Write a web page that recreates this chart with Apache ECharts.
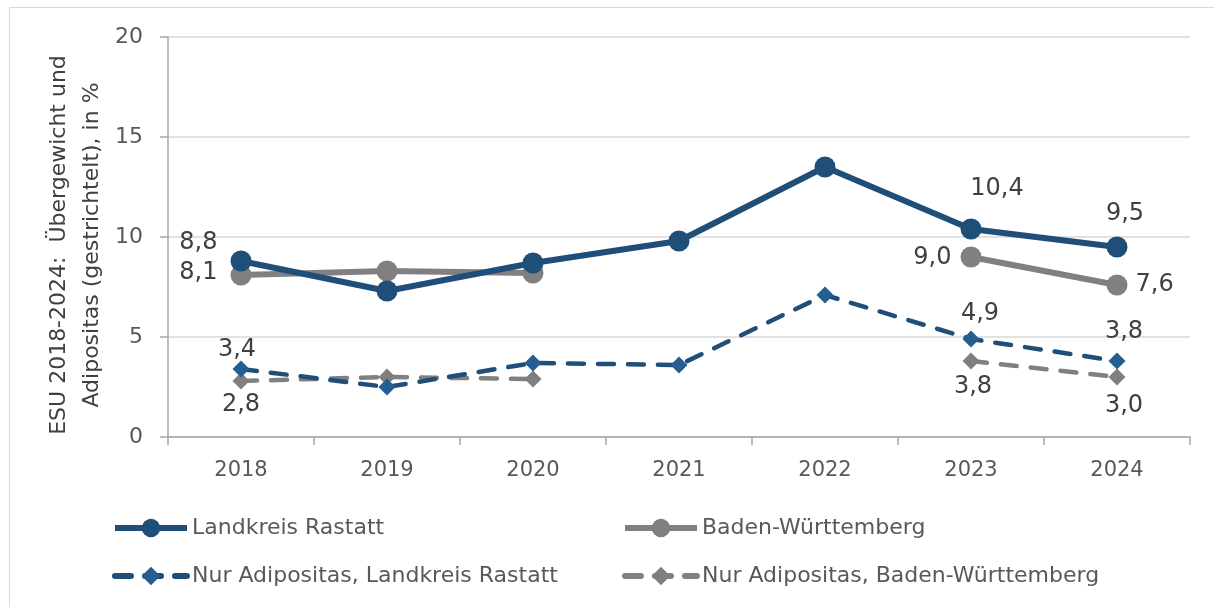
<!DOCTYPE html>
<html>
<head>
<meta charset="utf-8">
<script src="https://cdn.jsdelivr.net/npm/echarts@6/dist/echarts.min.js"></script>
<style>
html,body{margin:0;padding:0;background:#fff;}
#frame{position:absolute;left:9px;top:7px;width:1220px;height:620px;border:1px solid #d9d9d9;box-sizing:border-box;}
#chart{position:absolute;left:0;top:0;width:1214px;height:607px;}
</style>
</head>
<body>
<div id="frame"></div>
<div id="chart"></div>
<script>
var categories = ['2018', '2019', '2020', '2021', '2022', '2023', '2024'];
var rastatt = [8.8, 7.3, 8.7, 9.8, 13.5, 10.4, 9.5];
var bw = [8.1, 8.3, 8.2, null, null, 9.0, 7.6];
var adipRastatt = [3.4, 2.5, 3.7, 3.6, 7.1, 4.9, 3.8];
var adipBw = [2.8, 3.0, 2.9, null, null, 3.8, 3.0];
var seriesNames = ['Landkreis Rastatt', 'Baden-Württemberg', 'Nur Adipositas, Landkreis Rastatt', 'Nur Adipositas, Baden-Württemberg'];
var yTicks = [0, 5, 10, 15, 20];
var yTitle = ['ESU 2018-2024:  Übergewicht und', 'Adipositas (gestrichtelt), in %'];

var FONT = 'DejaVu Sans';
var labelStyle = {fontFamily: FONT, fontSize: 24, color: '#404040'};

// label placement per series: index -> [position, distance, offset]
var labelCfg = [
  {0: ['left', 13, [0, -18]], 5: ['top', 5, [26, -13]], 6: ['top', 5, [8, -6]]},
  {0: ['left', 13, [0, -2]], 5: ['left', 9, [0, 1]], 6: ['right', 8, [0, 0]]},
  {0: ['top', 5, [-4, 6]], 5: ['top', 5, [9, 0]], 6: ['top', 5, [7, -4]]},
  {0: ['bottom', 5, [0, -2]], 5: ['bottom', 5, [2, 0]], 6: ['bottom', 5, [7, 3]]}
];

function build(values, cfg) {
  return values.map(function (v, i) {
    var c = cfg[i];
    if (v === null) return null;
    if (!c) return {value: v};
    return {
      value: v,
      label: Object.assign({
        show: true,
        position: c[0],
        distance: c[1],
        offset: c[2],
        formatter: function (p) { return p.value.toFixed(1).replace('.', ','); }
      }, labelStyle)
    };
  });
}

var chart = echarts.init(document.getElementById('chart'), null, {renderer: 'canvas'});
chart.setOption({
  animation: false,
  textStyle: {fontFamily: FONT},
  grid: {left: 168, right: 24, top: 37, bottom: 170, containLabel: false},
  graphic: [{
    type: 'text',
    x: 76, y: 245,
    rotation: Math.PI / 2,
    style: {
      text: yTitle.join('\n'),
      fontFamily: FONT, fontSize: 22, lineHeight: 33,
      fill: '#404040', align: 'center', verticalAlign: 'middle'
    }
  }],
  xAxis: {
    type: 'category',
    data: categories,
    boundaryGap: true,
    axisLine: {lineStyle: {color: '#a6a6a6', width: 1.5}},
    axisTick: {show: true, length: 8, lineStyle: {color: '#a6a6a6', width: 1.5}},
    axisLabel: {fontFamily: FONT, fontSize: 21, color: '#595959', margin: 23}
  },
  yAxis: {
    type: 'value',
    min: yTicks[0],
    max: yTicks[yTicks.length - 1],
    interval: 5,
    axisLine: {show: true, lineStyle: {color: '#a6a6a6', width: 1.5}},
    axisTick: {show: true, length: 8, lineStyle: {color: '#a6a6a6', width: 1.5}},
    axisLabel: {fontFamily: FONT, fontSize: 22, color: '#595959', margin: 25},
    splitLine: {lineStyle: {color: '#d9d9d9', width: 1.5}}
  },
  legend: [
    {data: [seriesNames[0]], left: 112, top: 517},
    {data: [seriesNames[1]], left: 622, top: 517},
    {data: [seriesNames[2]], left: 112, top: 565},
    {data: [seriesNames[3]], left: 622, top: 565}
  ].map(function (l) {
    return Object.assign({
      orient: 'horizontal',
      padding: 0,
      itemWidth: 72,
      itemHeight: 23,
      itemGap: 4,
      lineStyle: {width: 6},
      textStyle: {fontFamily: FONT, fontSize: 22, color: '#595959', padding: [0, 0, 0, 0]},
      selectedMode: false
    }, l);
  }),
  series: [
    {
      name: seriesNames[0], type: 'line', data: build(rastatt, labelCfg[0]),
      symbol: 'circle', symbolSize: 21,
      lineStyle: {color: '#1F4E79', width: 6},
      itemStyle: {color: '#1F4E79'},
      z: 4
    },
    {
      name: seriesNames[1], type: 'line', data: build(bw, labelCfg[1]), connectNulls: false,
      symbol: 'circle', symbolSize: 21,
      lineStyle: {color: '#808080', width: 6},
      itemStyle: {color: '#808080'},
      z: 3
    },
    {
      name: seriesNames[2], type: 'line', data: build(adipRastatt, labelCfg[2]),
      symbol: 'diamond', symbolSize: 17,
      lineStyle: {color: '#1F4E79', width: 4.5, type: [16, 14], cap: 'round'},
      itemStyle: {color: '#255E91'},
      z: 2
    },
    {
      name: seriesNames[3], type: 'line', data: build(adipBw, labelCfg[3]), connectNulls: false,
      symbol: 'diamond', symbolSize: 17,
      lineStyle: {color: '#808080', width: 4.5, type: [16, 14], cap: 'round'},
      itemStyle: {color: '#7F7F7F'},
      z: 1
    }
  ]
});
</script>
</body>
</html>
